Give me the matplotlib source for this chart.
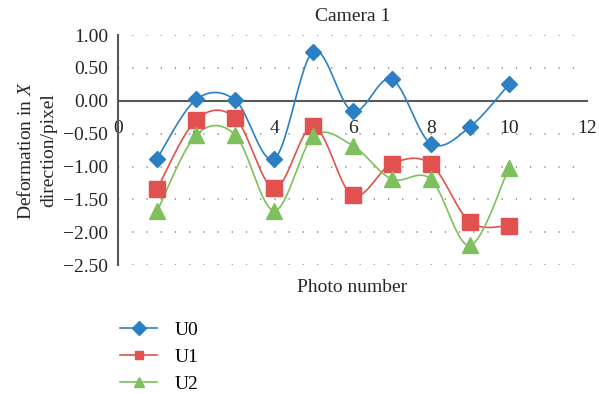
import matplotlib
matplotlib.use("Agg")
import matplotlib.pyplot as plt
import numpy as np

photo = [1, 2, 3, 4, 5, 6, 7, 8, 9, 10]
u0 = [-0.88, 0.02, 0.01, -0.88, 0.75, -0.16, 0.33, -0.65, -0.40, 0.25]
u1 = [-1.34, -0.29, -0.26, -1.33, -0.39, -1.44, -0.96, -0.96, -1.84, -1.90]
u2 = [-1.68, -0.52, -0.52, -1.67, -0.54, -0.68, -1.19, -1.19, -2.20, -1.02]

plt.rcParams['font.family'] = ['Liberation Serif', 'DejaVu Serif']
plt.rcParams['mathtext.fontset'] = 'custom'
plt.rcParams['mathtext.it'] = 'Liberation Serif:italic'
plt.rcParams['mathtext.rm'] = 'Liberation Serif'

fs = 14
txt = '#262626'


def smooth(x, y, n=30):
    # catmull-rom bezier segments, like a spreadsheet "smoothed line"
    x = np.asarray(x, float)
    y = np.asarray(y, float)
    px = np.concatenate([[x[0]], x, [x[-1]]])
    py = np.concatenate([[y[0]], y, [y[-1]]])
    xs, ys = [], []
    t = np.linspace(0, 1, n)
    for i in range(1, len(px) - 2):
        p0 = np.array([px[i], py[i]])
        p3 = np.array([px[i + 1], py[i + 1]])
        c1 = p0 + (np.array([px[i + 1], py[i + 1]]) - np.array([px[i - 1], py[i - 1]])) / 6
        c2 = p3 - (np.array([px[i + 2], py[i + 2]]) - np.array([px[i], py[i]])) / 6
        b = ((1 - t) ** 3)[:, None] * p0 + (3 * (1 - t) ** 2 * t)[:, None] * c1 \
            + (3 * (1 - t) * t ** 2)[:, None] * c2 + (t ** 3)[:, None] * p3
        xs.extend(b[:, 0])
        ys.extend(b[:, 1])
    return xs, ys


fig = plt.figure(figsize=(5.99, 3.94), dpi=100)
ax = fig.add_axes([0.197, 0.327, 0.783, 0.584])

series = [
    (u0, 'U0', '#2B80C5', 'D', 8, 7),
    (u1, 'U1', '#E0514F', 's', 11, 6),
    (u2, 'U2', '#7EC05C', '^', 11, 7.5),
]
for vals, name, col, mk, ms, lms in series:
    sx, sy = smooth(photo, vals)
    ax.plot(sx, sy, color=col, lw=1.2, zorder=3)
    ax.plot(photo, vals, linestyle='none', marker=mk, ms=ms, color=col, zorder=4)
    ax.plot([], [], color=col, lw=1.2, marker=mk, ms=lms, label=name)

ax.set_xlim(0, 12)
ax.set_ylim(-2.5, 1.0)
ax.set_xticks(np.arange(0, 13, 2))
yt = np.arange(-2.5, 1.01, 0.5)
ax.set_yticks(yt)
ax.set_yticklabels(['−%.2f' % abs(v) if v < -0.001 else '%.2f' % abs(v) for v in yt])

ax.yaxis.grid(True, color='#7f7f7f', linestyle=(0, (0.8, 8.5)), lw=1.1)
ax.set_axisbelow(True)

ax.spines['top'].set_visible(False)
ax.spines['right'].set_visible(False)
ax.spines['bottom'].set_position(('data', 0))
ax.spines['bottom'].set_color('#595959')
ax.spines['bottom'].set_linewidth(1.5)
ax.spines['left'].set_color('#595959')
ax.spines['left'].set_linewidth(1.5)
ax.tick_params(axis='both', length=0, labelsize=fs, colors=txt)
ax.tick_params(axis='x', pad=14)
ax.tick_params(axis='y', pad=7)

ax.set_title('Camera 1', fontsize=fs, color=txt, pad=10)
ax.set_ylabel('Deformation in $\\it{X}$\ndirection/pixel', fontsize=fs, color=txt,
              labelpad=4, linespacing=1.4)
ax.text(6, -2.84, 'Photo number', ha='center', va='center', fontsize=fs, color=txt)

fig.legend(loc='upper left', bbox_to_anchor=(0.188, 0.205), frameon=False, fontsize=fs,
           handlelength=1.9, labelspacing=0.5, handletextpad=0.9, borderaxespad=0)

plt.savefig('out.png', dpi=100)
